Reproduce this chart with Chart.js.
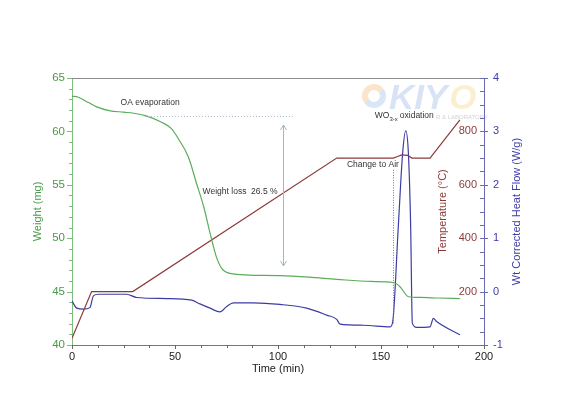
<!DOCTYPE html>
<html><head><meta charset="utf-8">
<script src="https://cdn.jsdelivr.net/npm/chart.js@4"></script>
<style>html,body{margin:0;padding:0;background:#fff;}#wrap{width:570px;height:400px;position:relative;}</style>
</head><body><div id="wrap"><canvas id="c"></canvas></div>
<script>
const weightTime   = [0, 3, 8, 12, 18, 25, 30, 36, 43, 48, 52, 56.5, 60.5, 64, 67, 70, 72.6, 76.7, 86, 101, 115, 128.5, 145, 156, 159.2, 163.3, 169, 178, 188.3];
const weightValues = [63.3, 63.2, 62.7, 62.3, 61.95, 61.8, 61.7, 61.45, 60.9, 60.3, 59.2, 57.6, 55.1, 52.9, 50.5, 48.3, 47.2, 46.7, 46.55, 46.5, 46.35, 46.15, 45.95, 45.85, 45.46, 44.52, 44.45, 44.4, 44.35];
const tempTime     = [0, 9.5, 29.5, 128.5, 156, 158, 160, 163, 165, 173.8, 188.3];
const tempValues   = [25, 200, 200, 700, 700, 706, 712, 710, 700, 700, 843];
const heatTime     = [0, 2.3, 5.5, 8.7, 10.4, 12.8, 26.5, 31.4, 46, 58.1, 62.1, 67, 71.8, 75.1, 78.3, 88, 101, 113.9, 123.6, 128.5, 130.1, 141.4, 154.4, 155.7, 158.4, 160.5, 162, 163.3, 164.4, 165.2, 167.3, 173.8, 175.4, 177, 188.3];
const heatValues   = [-0.18, -0.31, -0.33, -0.3, -0.08, -0.05, -0.05, -0.11, -0.13, -0.16, -0.23, -0.31, -0.38, -0.28, -0.21, -0.21, -0.24, -0.31, -0.44, -0.52, -0.61, -0.63, -0.66, -0.56, 1.22, 2.59, 3.01, 2.59, 1.22, -0.59, -0.67, -0.66, -0.5, -0.56, -0.81];
const timeTicks   = [0, 50, 100, 150, 200];
const weightTicks = [40, 45, 50, 55, 60, 65];
const tempTicks   = [200, 400, 600, 800];
const heatTicks   = [-1, 0, 1, 2, 3, 4];

const FONT = "'Liberation Sans', Arial, sans-serif";
const GREEN = '#5aad5a', RED = '#8c3b3b', BLUE = '#3c3ca6';
function pts(xs, ys) { return xs.map((x, i) => ({x: x, y: ys[i]})); }
function setTicks(arr) { return s => { s.ticks = arr.map(v => ({value: v})); }; }

const deco = {
  id: 'deco',
  beforeDatasetsDraw(chart) {
    const {ctx, chartArea: a} = chart;
    // faint watermark
    ctx.save();
    const wx = a.right - 110, wy = a.top + 18;
    ctx.globalAlpha = 0.3;
    ctx.lineWidth = 6;
    ctx.strokeStyle = '#f0a850'; ctx.beginPath(); ctx.arc(wx, wy, 9, Math.PI * 0.8, Math.PI * 1.8); ctx.stroke();
    ctx.strokeStyle = '#7fb0e0'; ctx.beginPath(); ctx.arc(wx, wy, 9, Math.PI * 1.8, Math.PI * 2.8); ctx.stroke();
    ctx.font = `italic bold 35px ${FONT}`;
    ctx.textBaseline = 'middle'; ctx.textAlign = 'left';
    ctx.fillStyle = '#7fa6dd';
    ctx.fillText('KIY', wx + 15, wy + 3);
    const w = ctx.measureText('KIY').width;
    ctx.fillStyle = '#f0cc66';
    ctx.fillText('O', wx + 17 + w, wy + 3);
    ctx.globalAlpha = 0.45;
    ctx.font = `6px ${FONT}`; ctx.fillStyle = '#999';
    ctx.fillText('R & LABORATORY', wx + 62, wy + 21);
    ctx.restore();
  },
  afterDatasetsDraw(chart) {
    const {ctx, chartArea: a, scales: {x, y}} = chart;
    ctx.save();
    // dotted reference line
    ctx.strokeStyle = '#a7b7c7'; ctx.lineWidth = 1; ctx.setLineDash([1, 2]);
    ctx.beginPath(); ctx.moveTo(x.getPixelForValue(35.4), y.getPixelForValue(61.4)); ctx.lineTo(x.getPixelForValue(108.3), y.getPixelForValue(61.4)); ctx.stroke();
    // change to air dotted
    ctx.strokeStyle = '#777'; ctx.setLineDash([1, 1.5]);
    const cx = Math.round(x.getPixelForValue(155.7)) + 0.5;
    ctx.beginPath(); ctx.moveTo(cx, y.getPixelForValue(56.4)); ctx.lineTo(cx, y.getPixelForValue(41.9)); ctx.stroke();
    // double arrow
    ctx.setLineDash([]); ctx.strokeStyle = '#9db8c8';
    const ax = Math.round(x.getPixelForValue(102.4)) + 0.5, y1 = y.getPixelForValue(60.6), y2 = y.getPixelForValue(47.4);
    ctx.beginPath(); ctx.moveTo(ax, y1); ctx.lineTo(ax, y2);
    ctx.moveTo(ax - 3, y1 + 5); ctx.lineTo(ax, y1); ctx.lineTo(ax + 3, y1 + 5);
    ctx.moveTo(ax - 3, y2 - 5); ctx.lineTo(ax, y2); ctx.lineTo(ax + 3, y2 - 5);
    ctx.stroke();
    // notes
    ctx.fillStyle = '#333'; ctx.font = `8.5px ${FONT}`; ctx.textAlign = 'center'; ctx.textBaseline = 'middle';
    ctx.fillText('OA evaporation', x.getPixelForValue(37.9), y.getPixelForValue(62.66));
    ctx.fillText('Weight loss  26.5 %', x.getPixelForValue(81.6), y.getPixelForValue(54.35));
    ctx.fillText('Change to Air', x.getPixelForValue(146.1), y.getPixelForValue(56.85));
    // WO3-x oxidation
    ctx.textAlign = 'left';
    let tx = x.getPixelForValue(147); const ty = y.getPixelForValue(61.45);
    ctx.fillText('WO', tx, ty); tx += ctx.measureText('WO').width;
    ctx.font = `6px ${FONT}`; ctx.fillText('3-x', tx, ty + 3); tx += ctx.measureText('3-x').width + 2;
    ctx.font = `8.5px ${FONT}`; ctx.fillText('oxidation', tx, ty);
    ctx.restore();
  },
  afterDraw(chart) {
    const {ctx, chartArea: a, scales: {x, y, yH}} = chart;
    ctx.save();
    ctx.lineWidth = 1;
    const seg = (x1, y1, x2, y2) => { ctx.beginPath(); ctx.moveTo(x1, y1); ctx.lineTo(x2, y2); ctx.stroke(); };
    // top border
    ctx.strokeStyle = '#8c8c8c';
    seg(a.left, a.top + 0.5, a.right, a.top + 0.5);
    // x ticks
    ctx.strokeStyle = '#666';
    for (let v = 0; v <= 200.001; v += 12.5) {
      const px = Math.round(x.getPixelForValue(v)) + 0.5;
      seg(px, a.bottom, px, a.bottom + (v % 50 === 0 ? 4 : 3));
    }
    // left ticks
    ctx.strokeStyle = '#7dbd7d';
    for (let v = 40; v <= 65.001; v += 1) {
      const py = Math.round(y.getPixelForValue(v)) + 0.5;
      seg(a.left - (v % 5 === 0 ? 5 : 3), py, a.left, py);
    }
    // right ticks
    ctx.strokeStyle = '#6a6ab0';
    for (let v = -1; v <= 4.001; v += 0.25) {
      const py = Math.round(yH.getPixelForValue(v)) + 0.5;
      if (Math.abs(v - Math.round(v)) < 1e-6) seg(a.right - 4, py, a.right + 4, py);
      else seg(a.right - 4, py, a.right, py);
    }
    // right axis titles (reading bottom to top)
    ctx.font = `11px ${FONT}`; ctx.textAlign = 'center'; ctx.textBaseline = 'middle';
    const my = (a.top + a.bottom) / 2;
    ctx.fillStyle = RED;
    ctx.save(); ctx.translate(a.right - 41, my); ctx.rotate(-Math.PI / 2); ctx.fillText('Temperature (°C)', 0, 0); ctx.restore();
    ctx.fillStyle = BLUE;
    ctx.save(); ctx.translate(a.right + 33, my); ctx.rotate(-Math.PI / 2); ctx.fillText('Wt Corrected Heat Flow (W/g)', 0, 0); ctx.restore();
    ctx.restore();
  }
};

new Chart(document.getElementById('c'), {
  type: 'line',
  data: {
    datasets: [
      {label: 'Weight', data: pts(weightTime, weightValues), yAxisID: 'y', borderColor: GREEN, borderWidth: 1.2, pointRadius: 0, cubicInterpolationMode: 'monotone', fill: false},
      {label: 'Temperature', data: pts(tempTime, tempValues), yAxisID: 'yT', borderColor: RED, borderWidth: 1.2, pointRadius: 0, tension: 0, fill: false},
      {label: 'Heat Flow', data: pts(heatTime, heatValues), yAxisID: 'yH', borderColor: BLUE, borderWidth: 1.2, pointRadius: 0, cubicInterpolationMode: 'monotone', fill: false}
    ]
  },
  options: {
    responsive: true, maintainAspectRatio: false, animation: false,
    layout: {padding: {top: 78, left: 0, right: 0, bottom: 0}},
    plugins: {legend: {display: false}, tooltip: {enabled: false}},
    scales: {
      x: {
        type: 'linear', min: 0, max: 200, afterBuildTicks: setTicks(timeTicks),
        afterFit: s => { s.height = 55; },
        grid: {display: true, drawOnChartArea: false, drawTicks: false},
        border: {color: '#777'},
        ticks: {color: '#222', font: {family: FONT, size: 11}, padding: 5, maxRotation: 0},
        title: {display: true, text: 'Time (min)', color: '#222', font: {family: FONT, size: 11}, padding: {top: 0, bottom: 24}}
      },
      y: {
        position: 'left', min: 40, max: 65, afterBuildTicks: setTicks(weightTicks),
        afterFit: s => { s.width = 72; },
        grid: {display: true, drawOnChartArea: false, drawTicks: false},
        border: {color: '#7dbd7d'},
        ticks: {color: '#4a9a4a', font: {family: FONT, size: 11.5}, padding: 7},
        title: {display: true, text: 'Weight (mg)', color: '#4a9a4a', font: {family: FONT, size: 11}, padding: {top: 31, bottom: 0}}
      },
      yT: {
        position: 'right', weight: 0, min: 0, max: 1000, afterBuildTicks: setTicks(tempTicks),
        afterFit: s => { s.width = 0; },
        grid: {display: false, drawOnChartArea: false, drawTicks: false},
        border: {display: false},
        ticks: {color: RED, font: {family: FONT, size: 11}, mirror: true, padding: -7}
      },
      yH: {
        position: 'right', weight: 1, min: -1, max: 4, afterBuildTicks: setTicks(heatTicks),
        afterFit: s => { s.width = 86; },
        grid: {display: true, drawOnChartArea: false, drawTicks: false},
        border: {color: '#6a6ab0'},
        ticks: {color: BLUE, font: {family: FONT, size: 11}, padding: 9}
      }
    }
  },
  plugins: [deco]
});
</script></body></html>
